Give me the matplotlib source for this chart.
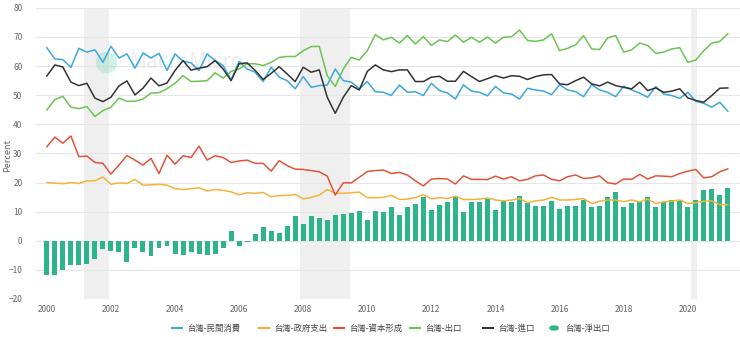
import numpy as np
import matplotlib.pyplot as plt

plt.rcParams['font.family'] = ['Noto Sans CJK TC', 'DejaVu Sans']

# quarterly, 2000Q1 - 2021Q2 (share of GDP, %)
consumption = [66.3, 62.5, 62.2, 59.6, 66.1, 64.8, 65.6, 61.3, 66.8, 62.8, 64.2, 59.3, 64.5, 62.8, 64.4, 58.5,
               64.2, 61.7, 61.1, 58.5, 64.2, 61.9, 60.2, 55.3, 61.6, 59.0,
               57.9, 54.7, 59.6, 56.2, 55.0, 52.2, 56.4, 52.7, 53.3, 53.5, 59.0, 55.0, 54.5, 52.2, 54.7, 51.2,
               51.0, 49.9, 53.5, 51.0, 51.2, 49.9, 54.1, 51.6, 50.8, 48.7, 53.6, 51.4, 51.0, 49.8,
               53.0, 50.8, 50.4, 48.7, 52.4, 51.8, 51.4, 50.2, 53.6, 51.8, 51.2, 49.5, 53.6, 51.8, 51.0, 49.5,
               53.1, 51.8, 50.7, 49.3, 53.0, 50.4, 49.9, 48.9, 51.0, 47.9, 47.2, 45.9, 47.6, 44.5]
government = [20.0, 19.8, 19.6, 20.0, 19.7, 20.6, 20.6, 21.9, 19.4, 19.9, 19.7, 21.1, 19.1, 19.2, 19.4, 19.1,
              17.9, 17.6, 17.9, 18.2, 17.1, 17.6, 17.3, 16.8, 15.8, 16.5,
              16.3, 16.6, 15.1, 15.5, 15.6, 15.9, 14.4, 14.9, 15.7, 17.6, 16.3, 16.3, 16.5, 16.7, 14.8, 14.8,
              14.9, 15.6, 14.2, 14.3, 14.8, 15.9, 14.4, 14.8, 14.5, 15.3, 14.2, 14.2, 14.3, 14.7,
              14.0, 13.7, 14.0, 14.5, 13.1, 13.7, 14.0, 14.9, 14.0, 14.0, 14.2, 14.5, 12.8, 13.6, 14.0, 14.0,
              13.4, 14.0, 13.4, 14.3, 12.8, 13.4, 13.6, 14.0, 12.8, 13.1, 13.6, 13.7, 12.4, 12.4]
capital = [32.3, 35.6, 33.5, 36.0, 28.9, 29.1, 26.9, 26.6, 22.9, 26.0, 29.3, 27.7, 26.0, 28.3, 23.1, 29.4,
           26.3, 29.2, 28.6, 32.5, 27.7, 29.2, 28.6, 26.9, 27.4, 27.7,
           26.6, 26.6, 23.9, 27.5, 25.8, 24.6, 24.5, 24.1, 23.7, 22.2, 15.7, 19.9, 19.9, 21.8, 23.8, 24.1,
           24.3, 23.1, 23.5, 22.6, 20.6, 18.8, 21.2, 21.4, 21.2, 19.5, 22.3, 21.1, 21.1, 21.0,
           22.2, 21.2, 22.0, 20.6, 21.1, 22.3, 22.6, 21.1, 20.6, 22.0, 22.6, 21.4, 21.6, 22.3, 19.9, 19.5,
           21.2, 21.1, 22.8, 21.2, 22.3, 22.2, 22.0, 23.1, 23.9, 24.5, 21.6, 22.0, 23.7, 24.7]
exports = [44.9, 48.5, 49.6, 45.9, 45.4, 46.1, 42.7, 44.7, 45.9, 49.0, 47.9, 47.9, 48.7, 50.7, 50.9, 52.2,
           54.1, 56.7, 54.7, 54.8, 55.0, 57.7, 55.9, 58.2, 59.0, 60.8,
           60.8, 60.2, 61.3, 63.0, 63.3, 63.3, 65.3, 66.7, 66.8, 56.7, 53.0, 59.0, 63.0, 62.1, 65.3, 70.8,
           69.0, 69.9, 67.9, 70.5, 67.6, 70.1, 67.1, 69.0, 68.4, 70.7, 68.2, 69.9, 68.2, 70.0,
           67.9, 69.9, 70.1, 72.4, 68.8, 68.5, 69.0, 71.1, 65.3, 66.1, 67.3, 70.5, 65.9, 65.7, 69.7, 70.5,
           64.8, 65.6, 67.9, 67.1, 64.4, 64.8, 65.9, 66.3, 61.3, 62.1, 65.3, 67.9, 68.5, 71.1]
imports = [56.6, 60.4, 59.7, 54.5, 53.3, 54.1, 49.0, 47.8, 49.3, 53.2, 54.9, 50.1, 52.4, 55.9, 53.2, 54.2,
           58.5, 61.9, 58.6, 59.3, 59.8, 61.9, 59.0, 55.0, 60.8, 61.1,
           58.5, 55.4, 57.5, 59.8, 57.3, 54.7, 59.6, 57.9, 58.7, 49.3, 43.8, 49.3, 53.3, 51.8, 58.2, 60.4,
           58.7, 58.1, 58.7, 58.7, 54.7, 54.7, 56.2, 56.5, 54.8, 54.8, 58.2, 56.4, 54.7, 55.7,
           56.7, 55.9, 56.7, 56.5, 55.4, 56.4, 57.0, 57.1, 53.9, 53.6, 55.0, 56.2, 53.9, 53.2, 54.5, 53.3,
           52.7, 52.2, 54.5, 51.6, 52.5, 51.0, 51.4, 52.2, 49.1, 48.2, 47.6, 49.9, 52.4, 52.5]
net_exports = [-11.9, -11.9, -9.9, -8.4, -8.2, -7.9, -6.2, -3.0, -3.6, -4.0, -7.2, -2.4, -4.0, -5.3, -2.4, -1.9,
               -4.4, -4.9, -3.8, -4.7, -4.8, -4.5, -2.6, 3.3, -1.7, -0.3,
               2.3, 4.6, 3.4, 2.7, 5.0, 8.5, 5.7, 8.6, 7.8, 7.3, 8.8, 9.2, 9.6, 10.1, 7.1, 10.2,
               9.9, 11.5, 8.8, 11.7, 12.6, 14.9, 10.4, 12.3, 13.2, 15.5, 10.0, 13.3, 13.3, 14.5,
               10.5, 13.7, 13.2, 15.5, 13.1, 11.9, 11.9, 13.6, 11.0, 12.1, 11.9, 13.9, 11.7, 12.1, 15.0, 16.6,
               11.7, 13.1, 13.3, 15.0, 11.5, 13.3, 14.0, 13.7, 11.7, 13.9, 17.4, 17.9, 15.8, 18.1]

recessions = [(2001.15, 2001.93), (2007.9, 2009.47), (2020.09, 2020.28)]
year_ticks = list(range(2000, 2021, 2))

t = 2000 + np.arange(len(consumption)) / 4.0

fig = plt.figure(figsize=(7.4, 3.37), dpi=100)
ax = fig.add_axes([0.049, 0.1128, 0.951, 0.8638])

for a, b in recessions:
    ax.axvspan(a, b, color='#efefef', zorder=0, lw=0)

ax.bar(t, net_exports, width=0.155, color='#2db48c', zorder=2)
ax.plot(t, consumption, color='#3ba9d9', lw=1.1, zorder=3)
ax.plot(t, government, color='#f2b43c', lw=1.1, zorder=3)
ax.plot(t, capital, color='#e0553a', lw=1.1, zorder=3)
ax.plot(t, exports, color='#6cc453', lw=1.1, zorder=3)
ax.plot(t, imports, color='#333333', lw=1.1, zorder=3)

ax.set_xlim(1999.67, 2021.63)
ax.set_ylim(-20, 80)
ax.set_yticks(range(-20, 81, 10))
ax.set_xticks(year_ticks)
ax.set_xticklabels([str(y) for y in year_ticks])
ax.grid(axis='y', color='#e6e6e6', lw=0.8, zorder=1)
ax.set_axisbelow(True)
for s in ax.spines.values():
    s.set_visible(False)
ax.tick_params(axis='both', length=0, labelsize=6, colors='#666666')
ax.tick_params(axis='y', pad=10)
ax.tick_params(axis='x', pad=4)
fig.text(8 / 740, 1 - 155 / 337, 'Percent', rotation=90, fontsize=6.5, color='#666666',
         ha='center', va='center')

# watermark
ax.text(2002.6, 61.5, 'MacroMicro', fontsize=15, color='#d3d9dc', alpha=0.45,
        ha='left', va='center', zorder=1)
ax.scatter([2001.85], [61.5], s=240, color='#8fdcc8', alpha=0.4, zorder=1, lw=0)

# legend
labels = ['台灣-民間消費', '台灣-政府支出', '台灣-資本形成', '台灣-出口', '台灣-進口', '台灣-淨出口']
colors = ['#3ba9d9', '#f2b43c', '#e0553a', '#6cc453', '#333333', '#2db48c']
xs = [172, 259, 334, 410, 483, 550]
for x, lab, c in zip(xs, labels, colors):
    if lab.endswith('淨出口'):
        fig.patches.append(plt.Circle(((x + 4) / 740, 1 - 328 / 337), 4.2 / 740,
                                      transform=fig.transFigure, color=c, figure=fig))
    else:
        fig.add_artist(plt.Line2D([x / 740, (x + 10) / 740], [1 - 328 / 337] * 2,
                                  color=c, lw=1.5, transform=fig.transFigure))
    fig.text((x + 15) / 740, 1 - 328 / 337, lab, fontsize=6, color='#444444',
             ha='left', va='center')

fig.savefig('out.png', dpi=100)
